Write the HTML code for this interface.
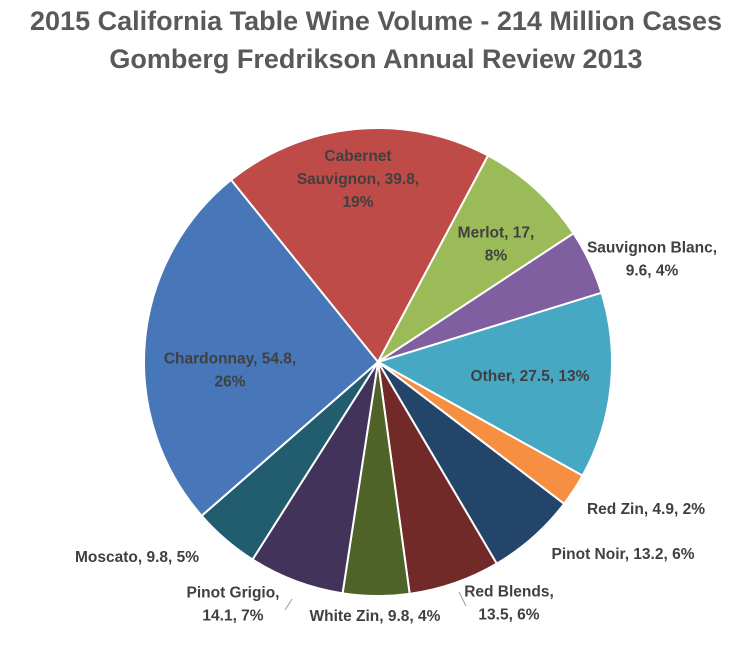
<!DOCTYPE html>
<html><head><meta charset="utf-8"><style>
body{margin:0;background:#fff;width:746px;height:650px;overflow:hidden;font-family:"Liberation Sans",sans-serif}
.t{font-weight:bold;fill:#595959;font-size:27px;text-anchor:middle}
.l{font-weight:bold;font-size:15.5px;fill:#404040;text-anchor:middle}
</style></head><body>
<svg id="c" width="746" height="650">
<text class="t" x="376" y="30">2015 California Table Wine Volume - 214 Million Cases</text>
<text class="t" x="376" y="68">Gomberg Fredrikson Annual Review 2013</text>
<g id="slices"></g>
<g id="labels"></g>
<line x1="292" y1="599" x2="285" y2="610" stroke="#999"/>
<line x1="459" y1="592" x2="466" y2="606" stroke="#999"/>
</svg>
<script>
const categories=["Cabernet Sauvignon","Merlot","Sauvignon Blanc","Other","Red Zin","Pinot Noir","Red Blends","White Zin","Pinot Grigio","Moscato","Chardonnay"];
const values=[39.8,17,9.6,27.5,4.9,13.2,13.5,9.8,14.1,9.8,54.8];
const percents=["19%","8%","4%","13%","2%","6%","6%","4%","7%","5%","26%"];
const colors=["#be4b48","#9bbb59","#7f5fa0","#46a8c2","#f68f42","#24456a","#722a28","#4f6328","#42335a","#215d6e","#4776b9"];
const labelLines=[["Cabernet","Sauvignon, 39.8,","19%"],["Merlot, 17,","8%"],["Sauvignon Blanc,","9.6, 4%"],["Other, 27.5, 13%"],["Red Zin, 4.9, 2%"],["Pinot Noir, 13.2, 6%"],["Red Blends,","13.5, 6%"],["White Zin, 9.8, 4%"],["Pinot Grigio,","14.1, 7%"],["Moscato, 9.8, 5%"],["Chardonnay, 54.8,","26%"]];
const labelPos=[[358,179],[496,244],[652,259],[530,376],[646,509],[623,554],[509,603],[375,616],[233,604],[137,557],[230,370]];
const cx=378,cy=362,r=234,start=-38.9;
const total=values.reduce((a,b)=>a+b,0);
const NS="http://www.w3.org/2000/svg";
function pt(a){const t=(a-90)*Math.PI/180;return [cx+r*Math.cos(t),cy+r*Math.sin(t)];}
let a=start;
const sg=document.getElementById('slices'),lg=document.getElementById('labels');
values.forEach((v,i)=>{
 const sweep=v/total*360,p1=pt(a),p2=pt(a+sweep);
 const p=document.createElementNS(NS,'path');
 p.setAttribute('d',`M${cx},${cy}L${p1[0]},${p1[1]}A${r},${r} 0 ${sweep>180?1:0} 1 ${p2[0]},${p2[1]}Z`);
 p.setAttribute('fill',colors[i]);p.setAttribute('stroke','#fff');p.setAttribute('stroke-width','2');
 
 
 sg.appendChild(p);
 a+=sweep;
 const t=document.createElementNS(NS,'text');
 t.setAttribute('class','l');
 
 
 const L=labelLines[i],[x,y]=labelPos[i];
 L.forEach((s,j)=>{const ts=document.createElementNS(NS,'tspan');ts.setAttribute('x',x);ts.setAttribute('y',y+(j-(L.length-1)/2)*23+5);ts.textContent=s;t.appendChild(ts);});
 lg.appendChild(t);
});
</script>
</body></html>
